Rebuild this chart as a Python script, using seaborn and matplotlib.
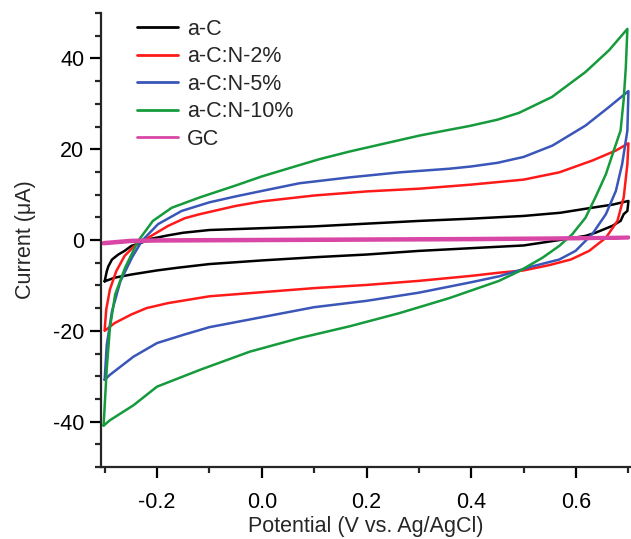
import numpy as np
import pandas as pd
import matplotlib
matplotlib.use("Agg")
import matplotlib.pyplot as plt
import seaborn as sns
from matplotlib.ticker import MultipleLocator

# ---------------- data ----------------
labels = ["a-C", "a-C:N-2%", "a-C:N-5%", "a-C:N-10%", "GC"]
colors = ["#000000", "#ff1a1a", "#3a56b8", "#159a3c", "#d846a6"]

# a-C : forward (anodic) then reverse (cathodic) scan
ac_fwd_x = [-0.300, -0.296, -0.293, -0.286, -0.274, -0.262, -0.249, -0.230, -0.210, -0.180, -0.150, -0.100, -0.050, 0.000, 0.100, 0.200, 0.300, 0.400, 0.500, 0.570, 0.630, 0.670, 0.700]
ac_fwd_y = [-9.1, -6.9, -5.8, -4.3, -3.2, -2.4, -1.3, -0.6, 0.3, 1.0, 1.6, 2.2, 2.4, 2.6, 3.0, 3.6, 4.2, 4.7, 5.3, 6.0, 7.1, 7.8, 8.6]
ac_rev_x = [0.700, 0.698, 0.691, 0.685, 0.669, 0.650, 0.637, 0.618, 0.580, 0.500, 0.400, 0.300, 0.200, 0.100, 0.000, -0.100, -0.160, -0.200, -0.249, -0.281, -0.300]
ac_rev_y = [8.6, 6.4, 5.7, 4.2, 3.1, 2.2, 1.6, 0.9, 0.2, -1.2, -1.8, -2.4, -3.2, -3.8, -4.5, -5.3, -6.1, -6.7, -7.6, -8.3, -9.1]

# a-C:N-2%
n2_fwd_x = [-0.300, -0.297, -0.290, -0.278, -0.262, -0.243, -0.217, -0.179, -0.147, -0.118, -0.050, 0.000, 0.100, 0.200, 0.300, 0.400, 0.500, 0.568, 0.631, 0.676, 0.700]
n2_fwd_y = [-19.8, -15.3, -10.9, -6.9, -3.5, -1.3, 0.5, 3.1, 4.8, 5.7, 7.5, 8.5, 9.8, 10.7, 11.3, 12.2, 13.3, 14.9, 17.5, 19.7, 21.3]
n2_rev_x = [0.700, 0.698, 0.691, 0.679, 0.657, 0.625, 0.590, 0.550, 0.500, 0.453, 0.400, 0.300, 0.200, 0.100, 0.000, -0.100, -0.179, -0.220, -0.249, -0.281, -0.300]
n2_rev_y = [21.3, 16.7, 9.4, 4.2, 0.5, -2.4, -4.3, -5.5, -6.7, -7.2, -7.9, -9.0, -9.9, -10.6, -11.5, -12.4, -13.9, -15.0, -16.4, -18.3, -20.0]

# a-C:N-5%
n5_fwd_x = [-0.300, -0.296, -0.286, -0.270, -0.248, -0.229, -0.198, -0.153, -0.100, -0.050, 0.000, 0.072, 0.168, 0.263, 0.358, 0.400, 0.450, 0.500, 0.555, 0.618, 0.663, 0.700]
n5_fwd_y = [-30.8, -23.1, -15.7, -9.1, -3.9, -0.2, 3.5, 6.4, 8.3, 9.6, 10.8, 12.5, 13.8, 14.9, 15.7, 16.2, 17.0, 18.3, 20.8, 25.2, 29.3, 32.8]
n5_rev_x = [0.700, 0.698, 0.688, 0.676, 0.657, 0.631, 0.599, 0.568, 0.517, 0.453, 0.400, 0.300, 0.200, 0.100, 0.000, -0.100, -0.150, -0.200, -0.245, -0.290, -0.300]
n5_rev_y = [32.8, 24.1, 16.7, 10.8, 5.7, 1.3, -2.4, -4.3, -5.8, -8.0, -9.3, -11.6, -13.4, -14.8, -17.0, -19.2, -20.9, -22.7, -25.7, -29.7, -30.8]

# a-C:N-10%
n10_fwd_x = [-0.302, -0.296, -0.290, -0.280, -0.261, -0.236, -0.208, -0.172, -0.118, -0.050, 0.000, 0.072, 0.110, 0.168, 0.263, 0.301, 0.350, 0.396, 0.450, 0.491, 0.554, 0.618, 0.663, 0.698]
n10_fwd_y = [-40.8, -28.3, -19.4, -12.0, -6.1, -0.2, 4.2, 7.1, 9.4, 12.0, 14.0, 16.5, 17.8, 19.5, 22.0, 23.0, 24.1, 25.1, 26.5, 28.0, 31.5, 37.0, 41.8, 46.5]
n10_rev_x = [0.698, 0.695, 0.691, 0.685, 0.672, 0.657, 0.637, 0.618, 0.593, 0.568, 0.536, 0.491, 0.453, 0.358, 0.263, 0.168, 0.072, -0.023, -0.118, -0.200, -0.245, -0.290, -0.302]
n10_rev_y = [46.5, 38.0, 31.0, 24.1, 19.7, 14.5, 9.4, 4.9, 1.3, -1.3, -3.9, -6.9, -9.0, -12.8, -16.1, -19.0, -21.6, -24.6, -28.6, -32.3, -36.4, -39.7, -40.9]

# GC (bare glassy carbon)
gc_fwd_x = [-0.302, -0.250, -0.200, 0.000, 0.200, 0.400, 0.600, 0.700]
gc_fwd_y = [-0.6, -0.1, 0.0, 0.1, 0.2, 0.3, 0.45, 0.6]
gc_rev_x = [0.700, 0.600, 0.400, 0.200, 0.000, -0.200, -0.250, -0.302]
gc_rev_y = [0.5, 0.3, 0.1, 0.0, -0.1, -0.2, -0.3, -0.8]

xticks = [-0.2, 0.0, 0.2, 0.4, 0.6]
yticks = [-40, -20, 0, 20, 40]

# ---------------- build table ----------------
curves = [
    (ac_fwd_x + ac_rev_x, ac_fwd_y + ac_rev_y),
    (n2_fwd_x + n2_rev_x, n2_fwd_y + n2_rev_y),
    (n5_fwd_x + n5_rev_x, n5_fwd_y + n5_rev_y),
    (n10_fwd_x + n10_rev_x, n10_fwd_y + n10_rev_y),
    (gc_fwd_x + gc_rev_x, gc_fwd_y + gc_rev_y),
]
rows = []
for lab, (xs, ys) in zip(labels, curves):
    for i, (xv, yv) in enumerate(zip(xs, ys)):
        rows.append({"Potential": xv, "Current": yv, "Sample": lab, "order": i})
df = pd.DataFrame(rows)

# ---------------- plot ----------------
sns.set_style("ticks")
plt.rcParams["font.family"] = ["Liberation Sans", "DejaVu Sans"]
FS = 15.5

fig = plt.figure(figsize=(6.31, 5.39), dpi=100)
ax = fig.add_axes([101 / 631, 1 - 467 / 539, 529 / 631, 454 / 539])

sns.lineplot(data=df, x="Potential", y="Current", hue="Sample", hue_order=labels,
             palette=colors, sort=False, estimator=None, linewidth=1.8, ax=ax)
for ln, lab in zip(ax.lines, labels):
    if lab == "GC":
        ln.set_linewidth(2.6)

ax.set_xlim(-0.307, 0.703)
ax.set_ylim(-50, 50)
ax.set_xticks(xticks)
ax.set_xticklabels(["-0.2", "0.0", "0.2", "0.4", "0.6"])
ax.set_yticks(yticks)
ax.set_yticklabels(["-40", "-20", "0", "20", "40"])
ax.xaxis.set_minor_locator(MultipleLocator(0.1))
ax.yaxis.set_minor_locator(MultipleLocator(5))

for s in ["top", "right"]:
    ax.spines[s].set_visible(False)
for s in ["left", "bottom"]:
    ax.spines[s].set_linewidth(1.6)
ax.tick_params(axis="both", which="major", direction="out", length=8, width=1.6,
               labelsize=FS, colors="black")
ax.tick_params(axis="both", which="minor", direction="out", length=4, width=1.6)
ax.tick_params(axis="x", which="major", pad=10)
ax.tick_params(axis="y", which="major", pad=4)

ax.set_xlabel("Potential (V vs. Ag/AgCl)", fontsize=FS, labelpad=2)
ax.set_ylabel("Current (\u03bcA)", fontsize=FS, labelpad=12)

handles, lbls = ax.get_legend_handles_labels()
leg = ax.legend(handles, lbls, loc="upper left", bbox_to_anchor=(0.06, 0.997),
                frameon=False, fontsize=FS, handlelength=1.9, handletextpad=0.42,
                labelspacing=0.3, borderaxespad=0.0, borderpad=0.2)
for h in leg.get_lines():
    h.set_linewidth(2.0)

fig.savefig("out.png", dpi=100)
